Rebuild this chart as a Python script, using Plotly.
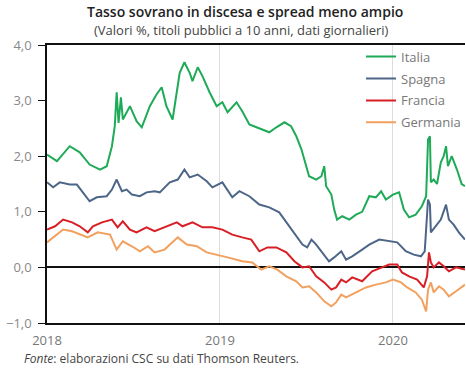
import plotly.graph_objects as go

# 10-year government bond yields (%), daily data sampled at turning points
italia_dates = ["2018-01-01","2018-01-22","2018-02-18","2018-03-11","2018-04-01","2018-04-23","2018-05-07",
                "2018-05-18","2018-05-24","2018-05-28","2018-06-01","2018-06-06","2018-06-10","2018-06-25",
                "2018-07-09","2018-07-20","2018-08-06","2018-08-20","2018-08-31","2018-09-10","2018-09-23",
                "2018-10-02","2018-10-08","2018-10-18","2018-10-29","2018-11-04","2018-11-15","2018-11-25",
                "2018-12-10","2018-12-25","2019-01-06","2019-01-17","2019-02-05","2019-02-17","2019-03-04",
                "2019-03-19","2019-03-31","2019-04-15","2019-04-30","2019-05-17","2019-05-31","2019-06-11",
                "2019-06-22","2019-07-02","2019-07-08","2019-07-23","2019-08-03","2019-08-09","2019-08-13",
                "2019-08-24","2019-08-30","2019-09-05","2019-09-16","2019-10-01","2019-10-15","2019-10-28",
                "2019-11-12","2019-11-26","2019-12-07","2019-12-17","2020-01-01","2020-01-14","2020-01-24",
                "2020-02-04","2020-02-18","2020-03-02","2020-03-11","2020-03-15","2020-03-19","2020-03-21",
                "2020-03-27","2020-04-03","2020-04-11","2020-04-17","2020-04-22","2020-04-26","2020-05-04",
                "2020-05-15","2020-05-25","2020-06-01"]
italia = [2.03,1.91,2.18,2.07,1.85,1.76,1.82,
          2.18,2.54,3.15,2.60,3.06,2.66,2.90,
          2.63,2.52,2.90,3.11,3.24,2.90,2.66,
          3.20,3.50,3.69,3.50,3.35,3.60,3.44,
          3.15,2.90,2.97,2.79,2.97,2.81,2.57,
          2.52,2.48,2.43,2.52,2.61,2.54,2.36,
          2.12,1.82,1.64,1.58,1.64,1.82,1.46,
          1.31,1.04,0.86,0.92,0.86,0.95,1.00,
          1.28,1.26,1.37,1.22,1.31,1.35,1.04,
          0.90,0.95,1.10,1.28,2.30,2.36,1.53,
          1.58,1.50,1.89,2.00,2.18,1.82,2.00,
          1.76,1.50,1.46]

spagna_dates = ["2018-01-01","2018-01-14","2018-01-28","2018-02-18","2018-03-05","2018-03-18","2018-04-01",
                "2018-04-16","2018-05-07","2018-05-18","2018-05-28","2018-06-08","2018-06-18","2018-06-29",
                "2018-07-16","2018-07-30","2018-08-16","2018-08-27","2018-09-17","2018-10-04","2018-10-18",
                "2018-10-29","2018-11-15","2018-12-04","2018-12-16","2019-01-06","2019-01-27","2019-02-11",
                "2019-03-04","2019-03-25","2019-04-15","2019-05-06","2019-05-27","2019-06-11","2019-06-24",
                "2019-07-04","2019-07-13","2019-07-23","2019-08-05","2019-08-19","2019-08-30","2019-09-14",
                "2019-09-24","2019-10-07","2019-10-28","2019-11-12","2019-12-03","2019-12-24","2020-01-10",
                "2020-01-28","2020-02-14","2020-02-29","2020-03-08","2020-03-15","2020-03-19","2020-03-21",
                "2020-04-01","2020-04-11","2020-04-22","2020-04-28","2020-05-08","2020-05-19","2020-06-01"]
spagna = [1.53,1.44,1.53,1.49,1.49,1.35,1.19,
          1.26,1.28,1.40,1.58,1.37,1.40,1.31,
          1.28,1.35,1.37,1.35,1.53,1.58,1.76,
          1.62,1.67,1.55,1.44,1.53,1.26,1.37,
          1.28,1.13,1.08,0.99,0.74,0.56,0.41,
          0.36,0.50,0.41,0.27,0.11,0.18,0.29,
          0.14,0.20,0.32,0.41,0.50,0.47,0.45,
          0.29,0.23,0.20,0.29,1.22,1.13,0.63,
          0.74,0.86,1.13,0.86,0.77,0.63,0.50]

francia_dates = ["2018-01-01","2018-01-18","2018-02-04","2018-02-23","2018-03-11","2018-03-28","2018-04-08",
                 "2018-04-27","2018-05-18","2018-05-30","2018-06-10","2018-06-25","2018-07-09","2018-07-30",
                 "2018-08-16","2018-09-06","2018-10-02","2018-10-14","2018-11-04","2018-11-25","2018-12-16",
                 "2019-01-06","2019-01-27","2019-02-17","2019-03-08","2019-03-25","2019-04-11","2019-04-30",
                 "2019-05-21","2019-06-07","2019-06-24","2019-07-08","2019-07-23","2019-08-09","2019-08-24",
                 "2019-09-03","2019-09-14","2019-09-24","2019-10-07","2019-10-28","2019-11-18","2019-12-09",
                 "2019-12-24","2020-01-10","2020-01-20","2020-02-04","2020-02-21","2020-03-06","2020-03-13",
                 "2020-03-17","2020-03-21","2020-03-27","2020-04-07","2020-04-17","2020-04-28","2020-05-13",
                 "2020-06-01"]
francia = [0.68,0.74,0.86,0.81,0.74,0.63,0.74,
           0.81,0.86,0.72,0.83,0.68,0.63,0.72,
           0.65,0.72,0.81,0.74,0.81,0.72,0.72,
           0.68,0.59,0.54,0.50,0.29,0.36,0.36,
           0.27,0.11,0.00,0.02,-0.16,-0.27,-0.40,
           -0.36,-0.22,-0.27,-0.18,-0.25,-0.07,0.00,
           0.05,0.05,-0.09,-0.16,-0.22,-0.36,-0.16,
           0.27,0.09,0.00,0.09,0.02,-0.07,0.00,
           -0.04]

germania_dates = ["2018-01-01","2018-01-18","2018-02-04","2018-02-23","2018-03-11","2018-03-28","2018-04-18",
                  "2018-05-14","2018-05-28","2018-06-10","2018-06-29","2018-07-16","2018-08-02","2018-08-16",
                  "2018-09-06","2018-10-04","2018-10-23","2018-11-13","2018-12-04","2018-12-25","2019-01-17",
                  "2019-02-17","2019-03-10","2019-03-29","2019-04-15","2019-05-02","2019-05-21","2019-06-11",
                  "2019-06-24","2019-07-08","2019-07-23","2019-08-09","2019-08-24","2019-09-03","2019-09-14",
                  "2019-09-24","2019-10-15","2019-11-05","2019-11-26","2019-12-17","2020-01-01","2020-01-18",
                  "2020-01-31","2020-02-18","2020-03-02","2020-03-11","2020-03-15","2020-03-21","2020-03-27",
                  "2020-04-07","2020-04-17","2020-04-28","2020-05-13","2020-06-01"]
germania = [0.45,0.56,0.68,0.65,0.59,0.54,0.63,
            0.59,0.32,0.47,0.38,0.29,0.38,0.27,
            0.32,0.54,0.41,0.38,0.27,0.23,0.18,
            0.11,0.09,-0.04,0.02,-0.04,-0.16,-0.25,
            -0.36,-0.34,-0.45,-0.61,-0.70,-0.63,-0.49,
            -0.54,-0.45,-0.36,-0.31,-0.27,-0.22,-0.27,
            -0.36,-0.45,-0.58,-0.79,-0.40,-0.27,-0.45,
            -0.34,-0.40,-0.52,-0.43,-0.31]

series = [
    ("Italia", italia_dates, italia, "#1faa58"),
    ("Spagna", spagna_dates, spagna, "#4d6688"),
    ("Francia", francia_dates, francia, "#d81f26"),
    ("Germania", germania_dates, germania, "#f2a05e"),
]

x_ticks = ["2018-01-01", "2019-01-01", "2020-01-01"]
x_tick_labels = ["2018", "2019", "2020"]
y_ticks = [-1, 0, 1, 2, 3, 4]

fig = go.Figure()
for name, dates, vals, color in series:
    fig.add_trace(go.Scatter(x=dates, y=vals, mode="lines", name=name, legendgroup=name,
                             line=dict(color=color, width=2)))

font_family = "Open Sans, Noto Sans, sans-serif"

fig.update_layout(
    width=466, height=368,
    margin=dict(l=47, r=0, t=45, b=45),
    paper_bgcolor="white", plot_bgcolor="white",
    separators=",.",
    font=dict(family=font_family, color="#666666", size=12),
    showlegend=True,
    legend=dict(x=0.752, y=1.012, xanchor="left", yanchor="top",
                bgcolor="rgba(0,0,0,0)", font=dict(size=13, color="#777777"),
                tracegroupgap=2, itemwidth=30),
    xaxis=dict(range=["2018-01-01", "2020-06-01"], tickvals=x_ticks, ticktext=x_tick_labels,
               showgrid=True, gridcolor="#dddddd", gridwidth=1,
               showline=True, linecolor="#111111", linewidth=1.5, mirror=True,
               ticks="", tickfont=dict(size=13, color="#777777"), ticklabelstandoff=5),
    yaxis=dict(range=[-1, 4], tickvals=y_ticks, tickformat=".1f",
               showgrid=False, zeroline=True, zerolinecolor="#111111", zerolinewidth=1.5,
               showline=True, linecolor="#111111", linewidth=1.5,
               ticks="outside", ticklen=7, tickcolor="#111111", ticklabelstandoff=4,
               tickfont=dict(size=13, color="#888888")),
    annotations=[
        dict(text="Tasso sovrano in discesa e spread meno ampio", xref="paper", yref="paper",
             x=0.473, y=1.0, xanchor="center", yanchor="middle", yshift=34, showarrow=False,
             font=dict(size=14, color="#222222", family=font_family, weight=600)),
        dict(text="(Valori %, titoli pubblici a 10 anni, dati giornalieri)", xref="paper", yref="paper",
             x=0.465, y=1.0, xanchor="center", yanchor="middle", yshift=15, showarrow=False,
             font=dict(size=13, color="#444444", family=font_family)),
        dict(text="<i>Fonte</i>: elaborazioni CSC su dati Thomson Reuters.", xref="paper", yref="paper",
             x=-0.06, y=0, xanchor="left", yanchor="middle", yshift=-35, showarrow=False,
             font=dict(size=12, color="#444444", family=font_family)),
    ],
)

fig.write_html("out.html")
